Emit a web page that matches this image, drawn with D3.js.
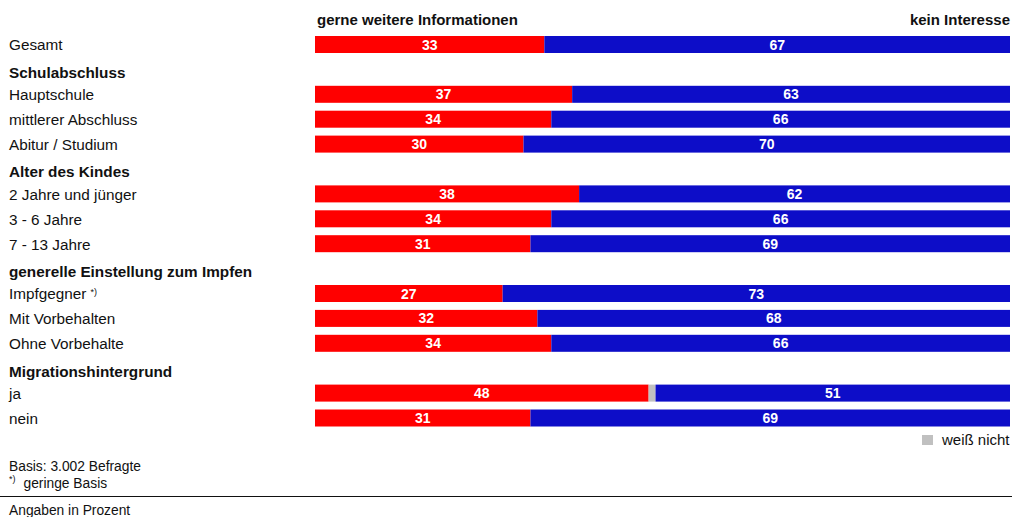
<!DOCTYPE html>
<html>
<head>
<meta charset="utf-8">
<script src="https://cdn.jsdelivr.net/npm/d3@7"></script>
<style>
  body { margin: 0; background: #fff; }
  text { font-family: "Liberation Sans", Arial, sans-serif; }
</style>
</head>
<body>
<script>
const categories = ["Gesamt", "Schulabschluss", "Hauptschule", "mittlerer Abschluss", "Abitur / Studium",
  "Alter des Kindes", "2 Jahre und jünger", "3 - 6 Jahre", "7 - 13 Jahre",
  "generelle Einstellung zum Impfen", "Impfgegner", "Mit Vorbehalten", "Ohne Vorbehalte",
  "Migrationshintergrund", "ja", "nein"]
const isHeader = [0,1,0,0,0,1,0,0,0,1,0,0,0,1,0,0]
const footnoteMark = [0,0,0,0,0,0,0,0,0,0,1,0,0,0,0,0]
const gerne =         [33,null,37,34,30,null,38,34,31,null,27,32,34,null,48,31]
const weissNicht =    [0, null,0, 0, 0, null,0, 0, 0, null,0, 0, 0, null,1, 0]
const keinInteresse = [67,null,63,66,70,null,62,66,69,null,73,68,66,null,51,69]
const seriesNames = ["gerne weitere Informationen", "weiß nicht", "kein Interesse"]

const width = 1012
const height = 517
const colors = {"gerne weitere Informationen": "#ff0000", "weiß nicht": "#c0c0c0", "kein Interesse": "#0d0dc8"}

const svg = d3.select("body").append("svg")
  .attr("width", width)
  .attr("height", height)

const x = d3.scaleLinear().domain([0, 100]).range([315, 1010])
const y = d3.scaleLinear().domain([0, 15]).range([36, 409.5])
const barH = 17

// column titles
svg.append("text").attr("x", 317).attr("y", 20).attr("dy", "0.35em")
  .style("font-size", "15px").style("font-weight", "bold").style("fill", "#111")
  .text(seriesNames[0])
svg.append("text").attr("x", 1010).attr("y", 20).attr("dy", "0.35em")
  .attr("text-anchor", "end")
  .style("font-size", "15px").style("font-weight", "bold").style("fill", "#111")
  .text(seriesNames[2])

// row labels
const rows = categories.map((c, i) => ({cat: c, i: i, header: isHeader[i], mark: footnoteMark[i]}))
const lab = svg.selectAll(".lab").data(rows).enter().append("text")
  .attr("x", 9)
  .attr("y", d => y(d.i) + barH / 2 + (d.header ? 3 : 0.5))
  .attr("dy", "0.35em")
  .style("font-size", "15.3px")
  .style("font-weight", d => d.header ? "bold" : "normal")
  .style("fill", "#111")
  .text(d => d.cat)
lab.filter(d => d.mark).append("tspan")
  .attr("dx", 4).attr("dy", "-0.45em")
  .style("font-size", "9px")
  .text("*)")

// stacked bars
const table = categories.map((c, i) => ({i: i, "gerne weitere Informationen": gerne[i],
  "weiß nicht": weissNicht[i], "kein Interesse": keinInteresse[i]}))
  .filter(d => !isHeader[d.i])
const stack = d3.stack().keys(seriesNames)(table)

const layer = svg.selectAll(".layer").data(stack).enter().append("g")
  .attr("fill", d => colors[d.key])
layer.selectAll("rect").data(d => d).enter().append("rect")
  .attr("x", d => x(d[0]))
  .attr("y", d => y(d.data.i))
  .attr("width", d => x(d[1]) - x(d[0]))
  .attr("height", barH)

// value labels
stack.filter(s => s.key !== "weiß nicht").forEach(s => {
  svg.selectAll(null).data(s).enter().append("text")
    .attr("x", d => (x(d[0]) + x(d[1])) / 2)
    .attr("y", d => y(d.data.i) + barH / 2)
    .attr("dy", "0.36em")
    .attr("text-anchor", "middle")
    .style("font-size", "14px").style("font-weight", "bold").style("fill", "#fff")
    .text(d => d[1] - d[0])
})

// legend
svg.append("rect").attr("x", 922).attr("y", 435).attr("width", 11).attr("height", 10)
  .attr("fill", colors["weiß nicht"])
svg.append("text").attr("x", 942).attr("y", 440).attr("dy", "0.35em")
  .style("font-size", "15px").style("fill", "#111").text(seriesNames[1])

// footer
svg.append("text").attr("x", 9).attr("y", 466.5).attr("dy", "0.35em")
  .style("font-size", "13.8px").style("fill", "#111").text("Basis: 3.002 Befragte")
const fn = svg.append("text").attr("x", 9).attr("y", 482.5).attr("dy", "0.35em")
  .style("font-size", "13.8px").style("fill", "#111")
fn.append("tspan").attr("dy", "-0.1em").style("font-size", "9px").text("*)")
fn.append("tspan").attr("dx", 8).attr("dy", "0.45em").text("geringe Basis")
svg.append("line").attr("x1", 0).attr("x2", 1012).attr("y1", 496.5).attr("y2", 496.5)
  .attr("stroke", "#111").attr("stroke-width", 1.2)
svg.append("text").attr("x", 9).attr("y", 510).attr("dy", "0.35em")
  .style("font-size", "13.8px").style("fill", "#111").text("Angaben in Prozent")
</script>
</body>
</html>
